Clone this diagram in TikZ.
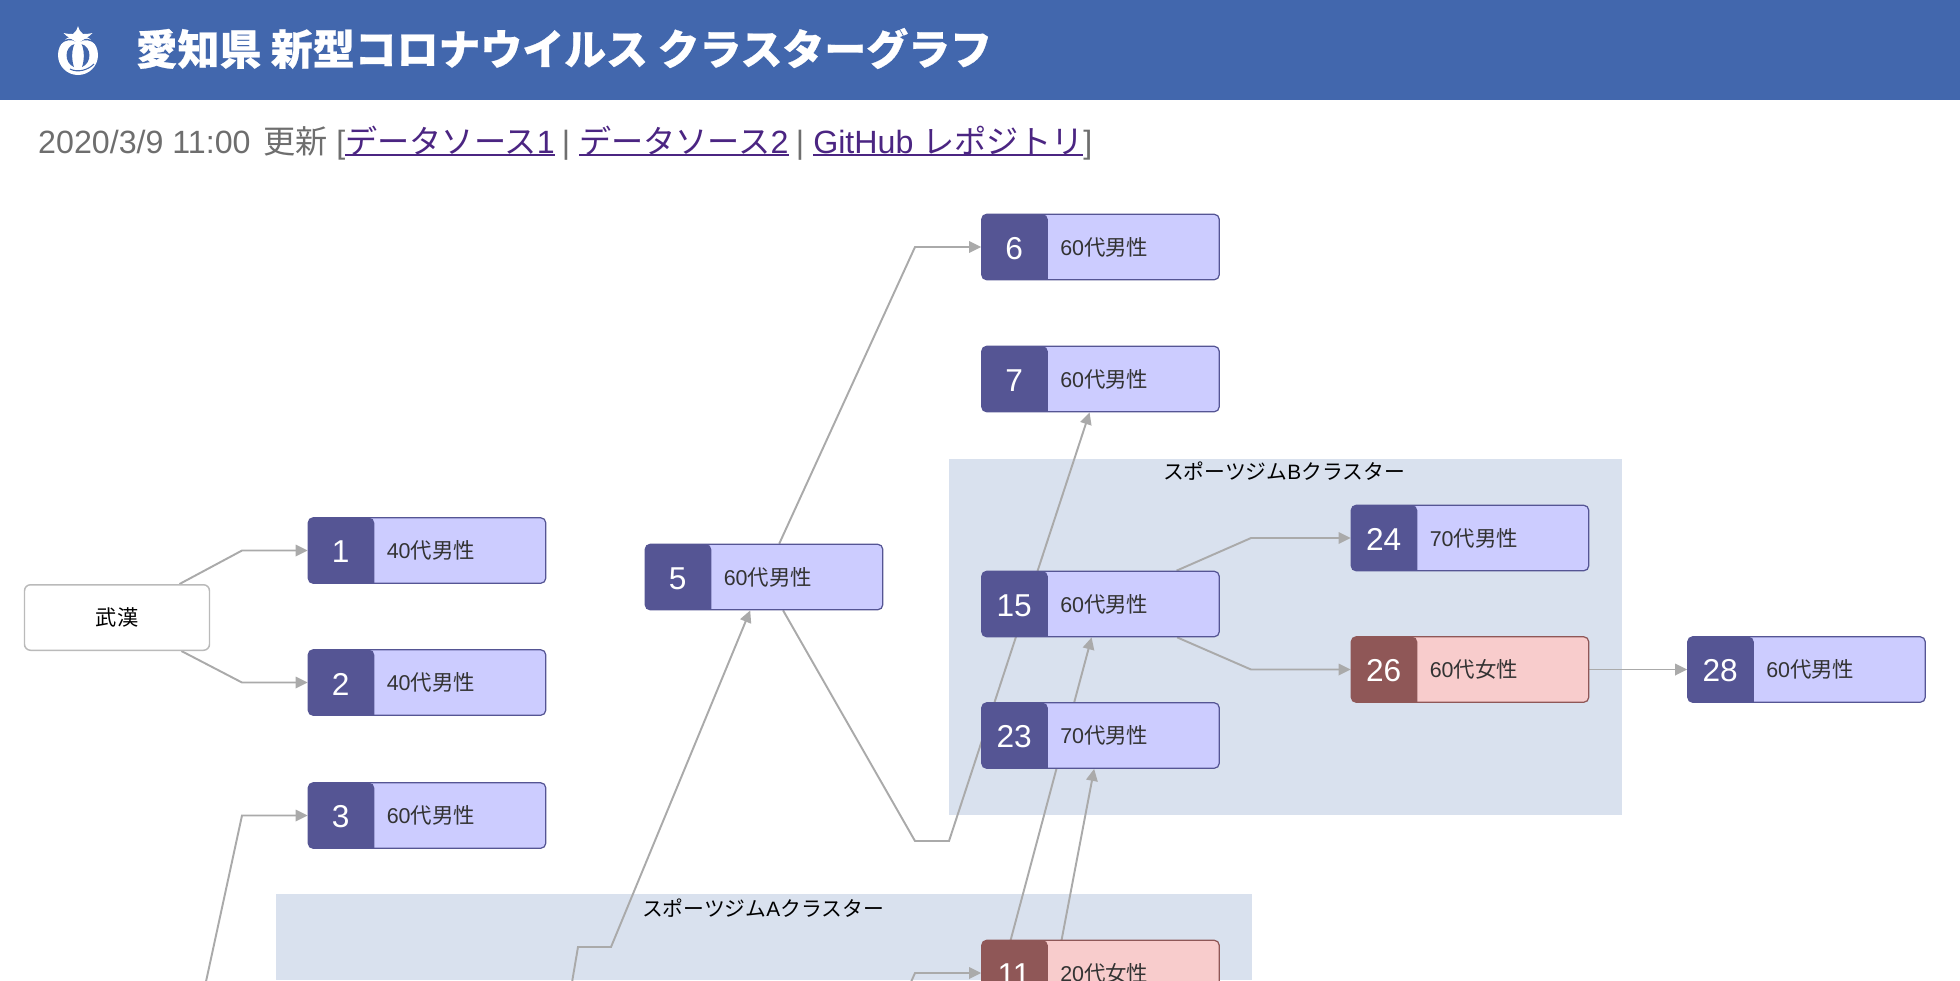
\documentclass[tikz,border=0pt]{standalone}
\usepackage{fontspec}
\setmainfont{Liberation Sans}
\newfontfamily\jafont[BoldFeatures={FakeBold=0.6}]{Noto Sans CJK JP}
\usetikzlibrary{arrows.meta}
\definecolor{headblue}{HTML}{4267AD}
\definecolor{clusterblue}{HTML}{D9E1EE}
\definecolor{edgegray}{HTML}{AAAAAA}
\definecolor{maledark}{HTML}{555594}
\definecolor{malefill}{HTML}{CCCCFF}
\definecolor{femaledark}{HTML}{8F5757}
\definecolor{femalefill}{HTML}{F8CCCC}
\definecolor{infogray}{HTML}{6E6E6E}
\definecolor{linkpurple}{HTML}{4B2582}
\newcommand{\age}[2]{\raisebox{-0.012cm}{#1{\jafont 代#2}}}
\newcommand{\linktxt}[1]{\setbox0\hbox{#1}\rlap{\color{linkpurple}\rule[-0.75pt]{\wd0}{0.5pt}}{\color{linkpurple}\box0}}
\pgfdeclarelayer{clusters}
\pgfdeclarelayer{edges}
\pgfsetlayers{clusters,edges,main}
\tikzset{
    case/.style={rectangle,rounded corners=0.05cm,line width=0.35pt,minimum width=2.375cm,minimum height=0.655cm,
        inner xsep=0pt,inner ysep=0pt,text width=2.375cm,align=left,text=black!80,
        font=\fontsize{6.1}{7}\selectfont,execute at begin node=\hspace*{0.785cm}},
    male/.style={case,draw=maledark,fill=malefill,path picture={\fill [maledark] (path picture bounding box.north west) rectangle +(0.66,-0.7);}},
    female/.style={case,draw=femaledark,fill=femalefill,path picture={\fill [femaledark] (path picture bounding box.north west) rectangle +(0.66,-0.7);}},
    num/.style={anchor=west,minimum width=0.645cm,inner sep=0pt,yshift=-0.015cm,text=white,font=\fontsize{9}{10}\selectfont},
    place/.style={rectangle,draw=black!27,fill=white,rounded corners=0.06cm,line width=0.42pt,minimum width=1.85cm,minimum height=0.655cm,
        font=\fontsize{6.05}{7}\selectfont\jafont},
    clustertitle/.style={inner sep=0pt,font=\fontsize{5.92}{7}\selectfont},
    edge/.style={draw=edgegray,line width=0.55pt,-{Triangle[length=1.2mm,width=1.15mm]}}
}
\begin{document}
\begin{tikzpicture}
    \useasboundingbox (0,0) rectangle (19.6,-9.8);
    % header
    \fill [headblue] (0,0) rectangle (19.6,-1);
    \fill [white] (0.78,-0.55) circle (0.2);
    \fill [headblue] (0.745,-0.44) .. controls (0.64,-0.47) and (0.64,-0.63) .. (0.74,-0.67) .. controls (0.715,-0.6) and (0.715,-0.5) .. cycle;
    \fill [headblue] (0.815,-0.44) .. controls (0.92,-0.47) and (0.92,-0.63) .. (0.82,-0.67) .. controls (0.845,-0.6) and (0.845,-0.5) .. cycle;
    \draw [headblue,line width=0.4pt] (0.6,-0.44) .. controls (0.66,-0.38) and (0.72,-0.39) .. (0.76,-0.41);
    \draw [headblue,line width=0.4pt] (0.96,-0.44) .. controls (0.9,-0.38) and (0.84,-0.39) .. (0.8,-0.41);
    \draw [headblue,line width=0.3pt] (0.7,-0.69) .. controls (0.78,-0.73) and (0.88,-0.7) .. (0.94,-0.64);
    \fill [white] (0.78,-0.26) .. controls (0.79,-0.3) and (0.81,-0.325) .. (0.83,-0.34) .. controls (0.86,-0.34) and (0.89,-0.34) .. (0.925,-0.33) .. controls (0.89,-0.37) and (0.84,-0.39) .. (0.8,-0.42) -- (0.76,-0.42) .. controls (0.72,-0.39) and (0.67,-0.37) .. (0.635,-0.33) .. controls (0.67,-0.34) and (0.7,-0.34) .. (0.73,-0.34) .. controls (0.75,-0.325) and (0.77,-0.3) .. cycle;
    \node [anchor=west,inner sep=0pt,text=white,font=\fontsize{11.92}{14}\selectfont\bfseries\jafont] (title) at (1.35,-0.485) {愛知県 新型コロナウイルス クラスターグラフ};
    \node [anchor=west,inner sep=0pt,text=infogray,font=\fontsize{9.16}{11}\selectfont] (info) at (0.375,-1.43) {2020/3/9 11:00\hspace{0.35mm} {\jafont 更新} [\linktxt{{\jafont データソース}1}\hspace{-0.2mm} | \linktxt{{\jafont データソース}2}\hspace{-0.15mm} | \linktxt{GitHub {\jafont レポジトリ}}]};
    % clusters
    \begin{pgfonlayer}{clusters}
    \fill [clusterblue] (9.485,-4.59) rectangle (16.22,-8.15);
    \fill [clusterblue] (2.755,-8.94) rectangle (12.52,-9.8);
    \end{pgfonlayer}
    \node [clustertitle] (titleb) at (12.84,-4.71) {\jafont スポーツジム{\rmfamily B}クラスター};
    \node [clustertitle] (titlea) at (7.63,-9.08) {\jafont スポーツジム{\rmfamily A}クラスター};
    % cases
    \node [place] (wuhan) at (1.17,-6.175) {武漢};
    \node [male] (c1) at (4.27,-5.505) {\age{40}{男性}};
    \node [num] (n1) at (c1.west) {1};
    \node [male] (c2) at (4.27,-6.825) {\age{40}{男性}};
    \node [num] (n2) at (c2.west) {2};
    \node [male] (c3) at (4.27,-8.155) {\age{60}{男性}};
    \node [num] (n3) at (c3.west) {3};
    \node [male] (c5) at (7.64,-5.77) {\age{60}{男性}};
    \node [num] (n5) at (c5.west) {5};
    \node [male] (c6) at (11.005,-2.47) {\age{60}{男性}};
    \node [num] (n6) at (c6.west) {6};
    \node [male] (c7) at (11.005,-3.79) {\age{60}{男性}};
    \node [num] (n7) at (c7.west) {7};
    \node [male] (c15) at (11.005,-6.04) {\age{60}{男性}};
    \node [num] (n15) at (c15.west) {15};
    \node [male] (c23) at (11.005,-7.355) {\age{70}{男性}};
    \node [num] (n23) at (c23.west) {23};
    \node [female] (c11) at (11.005,-9.73) {\age{20}{女性}};
    \node [num] (n11) at (c11.west) {11};
    \node [male] (c24) at (14.7,-5.38) {\age{70}{男性}};
    \node [num] (n24) at (c24.west) {24};
    \node [female] (c26) at (14.7,-6.695) {\age{60}{女性}};
    \node [num] (n26) at (c26.west) {26};
    \node [male] (c28) at (18.065,-6.695) {\age{60}{男性}};
    \node [num] (n28) at (c28.west) {28};
    % bends and the ends below the page
    \coordinate (b1) at (2.42,-5.505);
    \coordinate (b2) at (2.42,-6.825);
    \coordinate (b3) at (2.42,-8.155);
    \coordinate (e3) at (2.02,-10);
    \coordinate (b5a) at (5.78,-9.47);
    \coordinate (b5b) at (6.11,-9.47);
    \coordinate (e5) at (5.69,-10);
    \coordinate (b6) at (9.15,-2.47);
    \coordinate (b7a) at (9.15,-8.41);
    \coordinate (b7b) at (9.49,-8.41);
    \coordinate (b24) at (12.51,-5.38);
    \coordinate (b26) at (12.51,-6.695);
    \coordinate (b11) at (9.15,-9.73);
    \coordinate (e11) at (9.03,-10);
    \coordinate (e15) at (9.93,-10.06);
    \coordinate (e23) at (10.49,-10.06);
    % connectors
    \begin{pgfonlayer}{edges}
    \draw [edge] (wuhan) -- (b1) -- (c1);
    \draw [edge] (wuhan) -- (b2) -- (c2);
    \draw [edge] (e3) -- (b3) -- (c3);
    \draw [edge] (e5) -- (b5a) -- (b5b) -- (c5);
    \draw [edge] (c5) -- (b6) -- (c6);
    \draw [edge] (c5) -- (b7a) -- (b7b) -- (c7);
    \draw [edge] (c15) -- (b24) -- (c24);
    \draw [edge] (c15) -- (b26) -- (c26);
    \draw [edge] (c26) -- (c28);
    \draw [edge] (e11) -- (b11) -- (c11);
    \draw [edge] (e15) -- (c15);
    \draw [edge] (e23) -- (c23);
    \end{pgfonlayer}
\end{tikzpicture}
\end{document}
